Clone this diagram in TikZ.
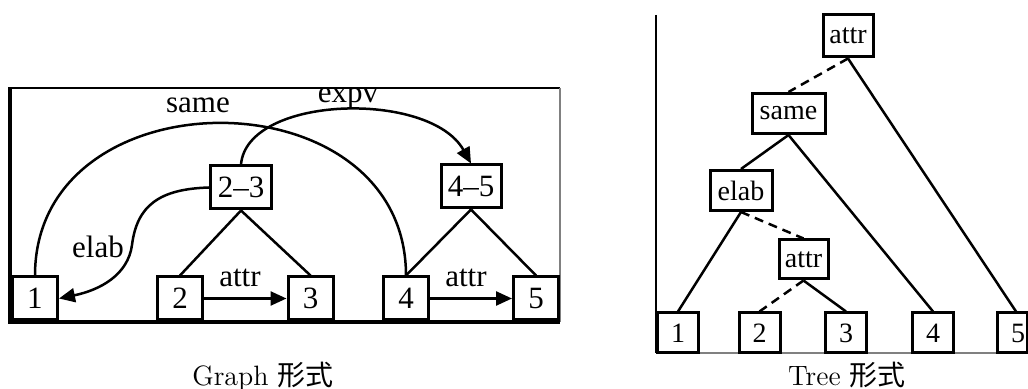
\documentclass[tikz,border=0pt]{standalone}
\usepackage{fontspec}
\newfontfamily\tms{Liberation Serif}
\newfontfamily\cjk{Noto Sans CJK JP}
\usetikzlibrary{arrows.meta}
\begin{document}
\begin{tikzpicture}[x=0.5pt,y=-0.5pt,
  gbox/.style={draw,line width=1.5pt,fill=white,inner sep=0pt,
    minimum height=21.5pt,minimum width=22.5pt,font=\tms\fontsize{15.5}{18}\selectfont},
  tbox/.style={draw,line width=1.5pt,fill=white,inner sep=0pt,
    minimum height=20pt,minimum width=20.5pt,font=\tms\fontsize{14}{16}\selectfont},
  link/.style={line width=1.25pt},
  dlink/.style={line width=1.25pt,dash pattern=on 4.5pt off 3pt},
  rel/.style={line width=1.25pt,-{Triangle[length=8pt,width=7pt]}},
  lbl/.style={font=\tms\fontsize{15.5}{18}\selectfont,inner sep=0pt,anchor=base},
  captext/.style={font=\fontsize{14}{17}\selectfont,inner sep=0pt,anchor=base}]
\useasboundingbox (0,0) rectangle (1028,389);

% ---------- Graph form ----------
% frame
\draw[line width=0.6pt] (8,88) -- (560,88);
\draw[line width=0.6pt,gray] (560,88) -- (560,322);
\draw[line width=1.75pt] (10,88) -- (10,322) -- (560,322);

% EDUs and spans
\node[gbox] (g1) at (35,298.5) {1};
\node[gbox] (g2) at (180,298.5) {2};
\node[gbox] (g3) at (310.5,298.5) {3};
\node[gbox] (g4) at (406,298.5) {4};
\node[gbox] (g5) at (536,298.5) {5};
\node[gbox,minimum width=30.5pt] (g23) at (241,187.5) {2–3};
\node[gbox,minimum width=30pt] (g45) at (471,186.5) {4–5};

% span structure
\draw[link] (g23.south) -- (g2.north);
\draw[link] (g23.south) -- (g3.north);
\draw[link] (g45.south) -- (g4.north);
\draw[link] (g45.south) -- (g5.north);

% relations
\draw[rel] (g2.east) -- (g3.west);
\draw[rel] (g4.east) -- (g5.west);
\node[lbl] (la1) at (240,287) {attr};
\node[lbl] (la2) at (466,287) {attr};

\draw[link] (g1.north) .. controls (35,72) and (406,72) .. (g4.north);
\node[lbl] (lsame) at (198,113) {same};

\draw[rel] (g23.north) .. controls (247,95) and (430,90) .. (g45.north);
\node[lbl] (lexpv) at (348,103) {expv};

\draw[rel] (g23.west) .. controls (160,189) and (137,205) .. (132,245)
  .. controls (128,275) and (100,290) .. (g1.east);
\node[lbl] (lelab) at (98,258) {elab};

\node[captext] (cg) at (263,386) {Graph {\cjk 形式}};

% ---------- Tree form ----------
\draw[line width=0.6pt] (656,15) -- (656,353);
\draw[line width=0.6pt,gray] (656,353) -- (1028,353);

\node[tbox] (t1) at (678,333) {1};
\node[tbox] (t2) at (759.5,333) {2};
\node[tbox] (t3) at (846,333) {3};
\node[tbox] (t4) at (933,333) {4};
\node[tbox,minimum width=15pt] (t5) at (1012,333) {\hspace*{6pt}5};

\node[tbox,minimum width=25pt,minimum height=21pt] (ta1) at (848,36) {attr};
\node[tbox,minimum width=36.5pt] (ts) at (788.5,113.5) {same};
\node[tbox,minimum width=31pt] (te) at (741,190.5) {elab};
\node[tbox,minimum width=24.5pt,minimum height=19.5pt] (ta2) at (803.5,259.5) {attr};

\draw[dlink] (ta1.south) -- (ts.north);
\draw[link] (ta1.south) -- ([xshift=2pt]t5.north);
\draw[link] (ts.south) -- (te.north);
\draw[link] (ts.south) -- (t4.north);
\draw[link] (te.south) -- (t1.north);
\draw[dlink] (te.south) -- (ta2.north);
\draw[dlink] (ta2.south) -- (t2.north);
\draw[link] (ta2.south) -- (t3.north);

\node[captext] (ct) at (847,386) {Tree {\cjk 形式}};
\end{tikzpicture}
\end{document}
